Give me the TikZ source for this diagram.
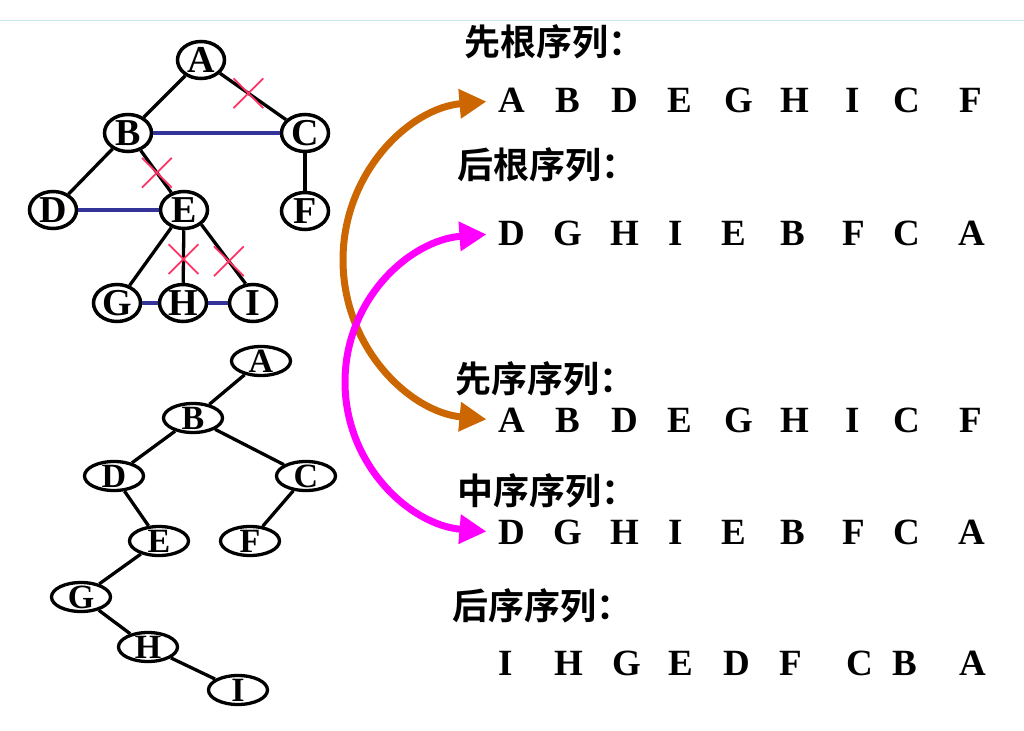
\documentclass[tikz,border=0pt]{standalone}
\usepackage{fontspec}
\setmainfont{Liberation Serif}
\newfontfamily\ltrfont{Liberation Serif Bold}
\newfontfamily\cjk{Noto Sans CJK SC Bold}
\usepackage{tikz}
\usetikzlibrary{positioning}
\usetikzlibrary{arrows.meta,shapes.geometric,shapes.misc}
\definecolor{edgeblue}{HTML}{333399}
\definecolor{crossred}{HTML}{FF3366}
\definecolor{arcorange}{HTML}{CC6600}
\definecolor{arcpink}{HTML}{FF00FF}
\definecolor{topline}{HTML}{C8E6EE}
\tikzstyle{tr_n} = [ellipse, draw=black, line width=3.5pt, inner sep=0pt, minimum width=47pt, minimum height=37pt, font=\ltrfont\fontsize{38}{40}\selectfont]
\tikzstyle{bt_n} = [ellipse, draw=black, line width=3.3pt, inner xsep=0pt, inner ysep=-1.5pt, minimum width=59pt, minimum height=29pt, font=\ltrfont\fontsize{34}{36}\selectfont]
\tikzstyle{tr_e} = [draw=black, line width=3.3pt]
\tikzstyle{tr_b} = [draw=edgeblue, line width=3.3pt]
\tikzstyle{tr_x} = [cross out, draw=crossred, line width=1.8pt, inner sep=0pt, minimum size=28pt]
\tikzstyle{seq_t} = [anchor=west, inner sep=0pt, font=\cjk\fontsize{36}{38}\selectfont]
\tikzstyle{seq_l} = [inner sep=0pt, font=\ltrfont\fontsize{37}{39}\selectfont]
\tikzstyle{arc_a} = [line width=7pt, arrows={Triangle[length=27pt,width=28pt]-Triangle[length=27pt,width=28pt]}, shorten <=12pt, shorten >=12pt]

\begin{document}
\begin{tikzpicture}[x=1pt,y=-1pt]
\useasboundingbox (0,0) rectangle (1024,730);
\draw [topline, line width=1.5pt] (0,20.5) -- (1024,20.5);
% tree with the crossed links
\node [tr_n] (tA) at (201,60) {A};
\node [tr_n] (tB) at (128,133) {B};
\node [tr_n] (tC) at (305,133) {C};
\node [tr_n] (tD) at (53,210) {D};
\node [tr_n] (tE) at (184,210) {E};
\node [tr_n] (tF) at (305,211) {F};
\node [tr_n] (tG) at (117,303) {G};
\node [tr_n] (tH) at (183,303) {H};
\node [tr_n] (tI) at (253,303) {I};
\draw [tr_e] (tA) -- (tB);
\draw [tr_e] (tA) -- node [tr_x, pos=.43] (xAC) {} (tC);
\draw [tr_e] (tB) -- (tD);
\draw [tr_e] (tB) -- node [tr_x, pos=.53] (xBE) {} (tE);
\draw [tr_e] (tC) -- (tF);
\draw [tr_e] (tE) -- (tG);
\draw [tr_e] (tE) -- node [tr_x, pos=.55] (xEH) {} (tH);
\draw [tr_e] (tE.-40) -- node [tr_x, pos=.62] (xEI) {} (tI.111);
\draw [tr_b] (tB) -- (tC);
\draw [tr_b] (tD) -- (tE);
\draw [tr_b] (tG) -- (tH);
\draw [tr_b] (tH) -- (tI);
% binary tree
\node [bt_n] (bA) at (261,361) {A};
\node [bt_n] (bB) at (193,418) {B};
\node [bt_n] (bD) at (114,476) {D};
\node [bt_n] (bC) at (306,476) {C};
\node [bt_n] (bE) at (159,541) {E};
\node [bt_n] (bF) at (250,541) {F};
\node [bt_n] (bG) at (81,597) {G};
\node [bt_n] (bH) at (148,647) {H};
\node [bt_n] (bI) at (238,690) {I};
\draw [tr_e] (bA) -- (bB);
\draw [tr_e] (bB) -- (bD);
\draw [tr_e] (bB) -- (bC);
\draw [tr_e] (bD) -- (bE);
\draw [tr_e] (bC) -- (bF);
\draw [tr_e] (bE) -- (bG);
\draw [tr_e] (bG) -- (bH);
\draw [tr_e] (bH) -- (bI);
% sequences
\node [seq_t] (t1) at (464,41.5) {先根序列：};
\node [seq_t] (t2) at (457,165) {后根序列：};
\node [seq_t] (t3) at (455,379) {先序序列：};
\node [seq_t] (t4) at (457,491) {中序序列：};
\node [seq_t] (t5) at (452,605.5) {后序序列：};
\foreach \r/\y in {1/100.5,3/420.5}
  \foreach \ch/\x [count=\i] in {A/512,B/568,D/625,E/680,G/739,H/795,I/853,C/907,F/971}
    \node [seq_l] (r\r-\i) at (\x,\y) {\ch};
\foreach \r/\y in {2/233.5,4/532.5}
  \foreach \ch/\x [count=\i] in {D/512,G/568,H/625,I/676,E/734,B/793,F/854,C/907,A/972}
    \node [seq_l] (r\r-\i) at (\x,\y) {\ch};
\foreach \ch/\x [count=\i] in {I/506,H/569,G/627,E/681,D/737,F/791,C/860,B/905,A/973}
  \node [seq_l] (r5-\i) at (\x,663.5) {\ch};
% arrows
\draw [arc_a, arcorange] (r3-1.west) .. controls (410,412) and (343,348) .. (343,260)
  .. controls (343,172) and (410,108) .. (r1-1.west);
\draw [arc_a, arcpink] (r4-1.west) .. controls (410,525) and (345,465) .. (345,382)
  .. controls (345,299) and (410,240) .. (r2-1.west);
\end{tikzpicture}
\end{document}
